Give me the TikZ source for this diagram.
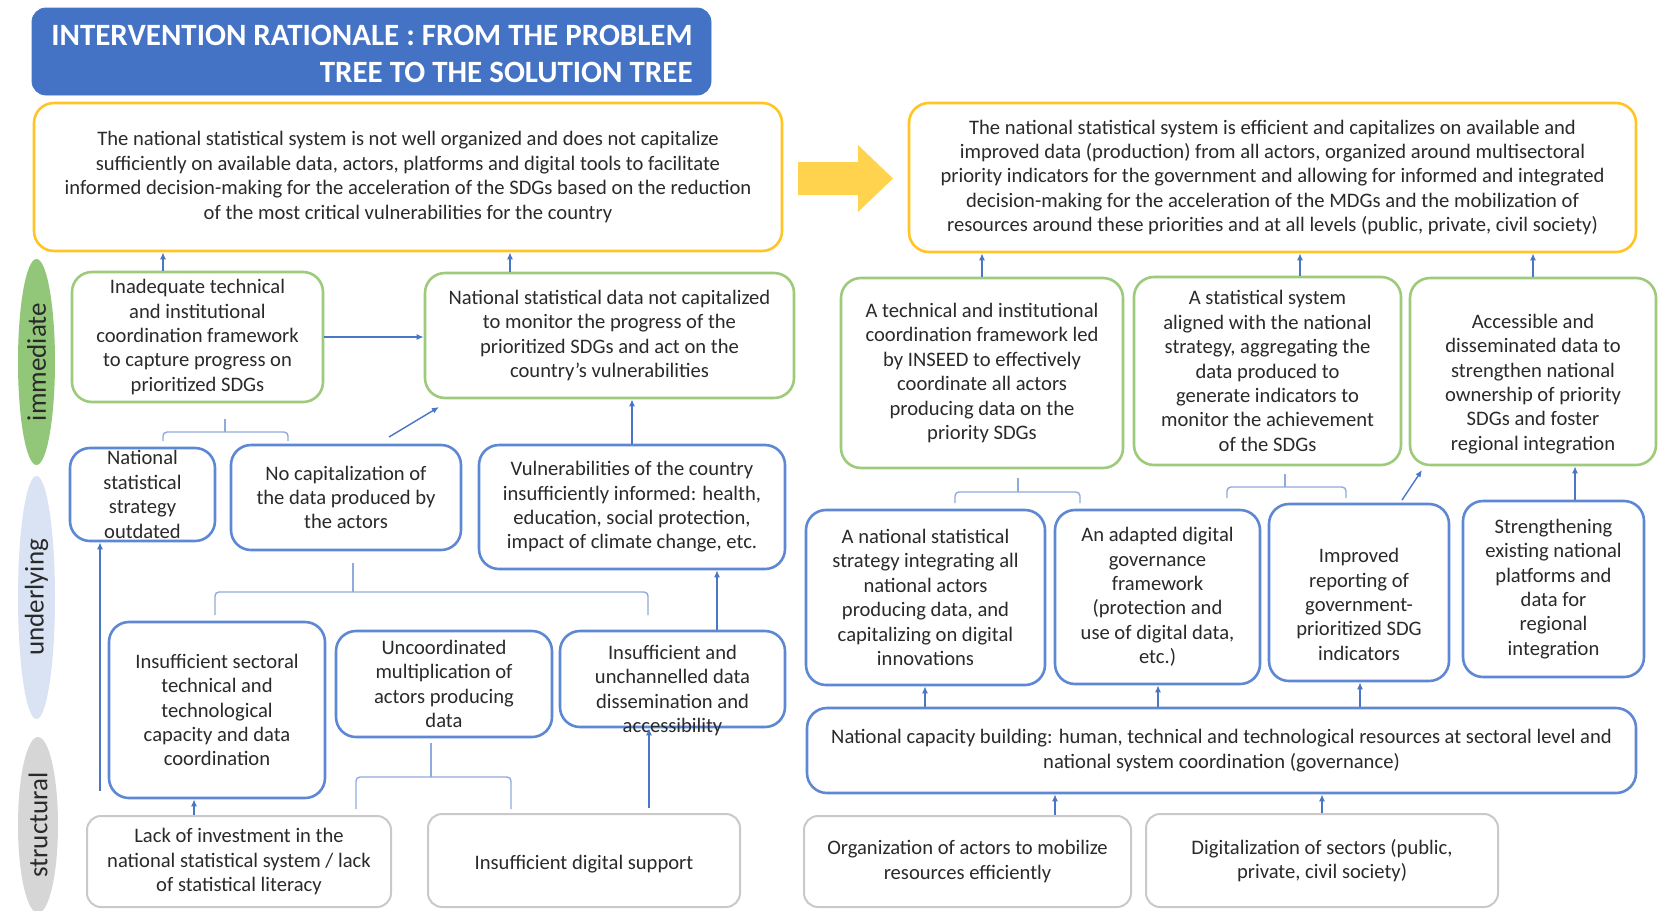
\documentclass[tikz,border=0pt]{standalone}
\usepackage{fontspec}
\setmainfont{Carlito}
\usetikzlibrary{arrows.meta,calc,shapes.geometric}
\definecolor{tblue}{HTML}{4472C4}
\definecolor{ylw}{HTML}{FFC526}
\definecolor{arry}{HTML}{FFD34D}
\definecolor{grn}{HTML}{9DCB7B}
\definecolor{blu}{HTML}{5E88D4}
\definecolor{gry}{HTML}{C9C9C9}
\definecolor{conc}{HTML}{4A76C6}
\definecolor{brc}{HTML}{8FAADC}
\definecolor{txt}{HTML}{2A2A2A}
\definecolor{egrn}{HTML}{92C77A}
\definecolor{eblu}{HTML}{DAE3F3}
\definecolor{egry}{HTML}{D6D6D6}
\tikzset{
  base/.style={align=center, inner sep=0pt, text=txt, font=\fontsize{10.3}{12.2}\selectfont,
    execute at begin node={\rule{0pt}{10.7pt}}},
  ybox/.style={base, draw=ylw, line width=1.3pt, rounded corners=10pt},
  gbox/.style={base, draw=grn, line width=1.3pt, rounded corners=10pt},
  bbox/.style={base, draw=blu, line width=1.3pt, rounded corners=10pt},
  sbox/.style={base, draw=gry, line width=1pt, rounded corners=7pt},
  txtonly/.style={base},
  conn/.style={draw=conc, line width=0.7pt, -{Latex[length=3.5pt,width=3pt]}},
  brk/.style={draw=brc, line width=0.7pt, rounded corners=2pt},
  ell/.style={ellipse, inner sep=0pt, text=txt, font=\fontsize{13.5}{16}\selectfont, rotate=90},
  sz/.style 2 args={minimum width=#1, minimum height=#2}
}
\begin{document}
\begin{tikzpicture}[x=0.5pt,y=-0.5pt]
\useasboundingbox (0,0) rectangle (1658,910);
\fill[white] (0,0) rectangle (1658,910);

% title
\node[fill=tblue, draw=tblue, rounded corners=7pt, sz={339.5pt}{43.5pt}] (title) at (371.5,51.5) {};
\node[anchor=east, align=right, text=white, inner sep=0pt, font=\bfseries\fontsize{15.5}{18.5}\selectfont] (titletxt) at (693,53.5) {INTERVENTION RATIONALE : FROM THE PROBLEM\\TREE TO THE SOLUTION TREE};

% level ellipses
\node[ell, fill=egrn, sz={103pt}{18.5pt}] (eimm) at (36.5,362) {immediate};
\node[ell, fill=eblu, sz={121.5pt}{18.5pt}] (eund) at (36.5,597.5) {underlying};
\node[ell, fill=egry, sz={88pt}{20pt}] (estr) at (38,825) {structural};

% core problems / solution
\node[ybox, sz={374pt}{74pt}] (Yl) at (408,177) {The national statistical system is not well organized and does not capitalize\\sufficiently on available data, actors, platforms and digital tools to facilitate\\informed decision-making for the acceleration of the SDGs based on the reduction\\of the most critical vulnerabilities for the country};
\node[ybox, sz={363.5pt}{74.5pt}] (Yr) at (1272.5,177.5) {The national statistical system is efficient and capitalizes on available and\\improved data (production) from all actors, organized around multisectoral\\priority indicators for the government and allowing for informed and integrated\\decision-making for the acceleration of the MDGs and the mobilization of\\resources around these priorities and at all levels (public, private, civil society)};

% big yellow arrow
\fill[arry] (798,162) -- (858,162) -- (858,145) -- (893,178.5) -- (858,212) -- (858,195) -- (798,195) -- cycle;

% left: problem tree
\node[gbox, sz={125.5pt}{65pt}] (A) at (197.5,337) {Inadequate technical\\and institutional\\coordination framework\\to capture progress on\\prioritized SDGs};
\node[gbox, sz={184.5pt}{62.5pt}] (B) at (609.5,335.5) {National statistical data not capitalized\\to monitor the progress of the\\prioritized SDGs and act on the\\country’s vulnerabilities};
\node[bbox, sz={72.5pt}{46.5pt}, execute at begin node={}] (C) at (142.5,494.5) {National\\statistical\\strategy\\outdated};
\node[bbox, sz={115pt}{52.5pt}] (D) at (346,497.5) {No capitalization of\\the data produced by\\the actors};
\node[bbox, sz={153pt}{62pt}] (E) at (632,507) {Vulnerabilities of the country\\insufficiently informed: health,\\education, social protection,\\impact of climate change, etc.};
\node[bbox, sz={108pt}{88pt}] (F) at (217,710) {Insufficient sectoral\\technical and\\technological\\capacity and data\\coordination};
\node[bbox, sz={108pt}{53pt}] (G) at (444,684) {Uncoordinated\\multiplication of\\actors producing\\data};
\node[bbox, sz={112.5pt}{48pt}] (H) at (672.5,679) {};
\node[txtonly] (Ht) at (672.5,690.5) {Insufficient and\\unchannelled data\\dissemination and\\accessibility};
\node[sbox, sz={152pt}{45.5pt}] (I) at (239,861.5) {Lack of investment in the\\national statistical system / lack\\of statistical literacy};
\node[sbox, sz={156pt}{46.5pt}] (J) at (584,860.5) {Insufficient digital support};

% right: solution tree
\node[gbox, sz={141pt}{95pt}] (K) at (982,373) {A technical and institutional\\coordination framework led\\by INSEED to effectively\\coordinate all actors\\producing data on the\\priority SDGs};
\node[gbox, sz={133.5pt}{94pt}] (L) at (1267.5,371) {A statistical system\\aligned with the national\\strategy, aggregating the\\data produced to\\generate indicators to\\monitor the achievement\\of the SDGs};
\node[gbox, sz={123pt}{93.5pt}] (M) at (1533,371.5) {};
\node[txtonly] (Mt) at (1533,384) {Accessible and\\disseminated data to\\strengthen national\\ownership of priority\\SDGs and foster\\regional integration};
\node[bbox, sz={119.5pt}{87.5pt}] (N) at (925.5,597.5) {A national statistical\\strategy integrating all\\national actors\\producing data, and\\capitalizing on digital\\innovations};
\node[bbox, sz={102.5pt}{87pt}] (O) at (1157.5,597) {An adapted digital\\governance\\framework\\(protection and\\use of digital data,\\etc.)};
\node[bbox, sz={90pt}{88.5pt}] (P) at (1359,592.5) {};
\node[txtonly] (Pt) at (1359,604.5) {Improved\\reporting of\\government-\\prioritized SDG\\indicators};
\node[bbox, sz={90.5pt}{88pt}] (Q) at (1553.5,589) {Strengthening\\existing national\\platforms and\\data for\\regional\\integration};
\node[bbox, sz={414.5pt}{42.5pt}] (R) at (1221.5,750.5) {National capacity building: human, technical and technological resources at sectoral level and\\national system coordination (governance)};
\node[sbox, sz={163.5pt}{45.5pt}] (S) at (967.5,861.5) {Organization of actors to mobilize\\resources efficiently};
\node[sbox, sz={176pt}{46.5pt}] (T) at (1322,860.5) {Digitalization of sectors (public,\\private, civil society)};

% x positions for vertical connectors
\coordinate (x163) at (163,0);
\coordinate (x510) at (510,0);
\coordinate (x632) at (632,0);
\coordinate (x100) at (100,791);
\coordinate (x194) at (194,0);
\coordinate (x649) at (649,0);
\coordinate (x717) at (717,0);
\coordinate (x982) at (982,0);
\coordinate (x1300) at (1300,0);
\coordinate (x1533) at (1533,0);
\coordinate (x1575) at (1575,0);
\coordinate (x925) at (925,0);
\coordinate (x1158) at (1158,0);
\coordinate (x1360) at (1360,0);
\coordinate (x1055) at (1055,0);
\coordinate (x1322) at (1322,0);

% left connectors
\draw[conn] (A.north -| x163) -- (Yl.south -| x163);
\draw[conn] (B.north -| x510) -- (Yl.south -| x510);
\draw[conn] (A.east) -- (A.east -| B.west);
\coordinate (dB1) at (389,437);
\coordinate (dB2) at (439,407);
\draw[conn] (dB1) -- (dB2);
\draw[conn] (E.north -| x632) -- (B.south -| x632);
\draw[conn] (x100) -- (C.south -| x100);
\draw[conn] (I.north -| x194) -- (F.south -| x194);
\draw[conn] ([yshift=2.5pt]J.north -| x649) -- (H.south -| x649);
\draw[conn] (H.north -| x717) -- (E.south -| x717);

% left brackets
\coordinate (b1l) at (163,441); \coordinate (b1r) at (288,441); \coordinate (b1s) at (225,419); \coordinate (b1y) at (0,432);
\draw[brk] (b1l) -- (b1l |- b1y) -- (b1r |- b1y) -- (b1r);
\draw[brk] (b1s |- b1y) -- (b1s);
\coordinate (b2l) at (215,615); \coordinate (b2r) at (648,615); \coordinate (b2s) at (353,563); \coordinate (b2y) at (0,592);
\draw[brk] (b2l) -- (b2l |- b2y) -- (b2r |- b2y) -- (b2r);
\draw[brk] (b2s |- b2y) -- (b2s);
\coordinate (b3l) at (356,809); \coordinate (b3r) at (511,809); \coordinate (b3s) at (431,743); \coordinate (b3y) at (0,777);
\draw[brk] (b3l) -- (b3l |- b3y) -- (b3r |- b3y) -- (b3r);
\draw[brk] (b3s |- b3y) -- (b3s);

% right connectors
\draw[conn] (K.north -| x982) -- (Yr.south -| x982);
\draw[conn] (L.north -| x1300) -- (Yr.south -| x1300);
\draw[conn] (M.north -| x1533) -- (Yr.south -| x1533);
\coordinate (pM1) at (1402,500);
\coordinate (pM2) at (1422,470);
\draw[conn] (pM1) -- (pM2);
\draw[conn] (Q.north -| x1575) -- (M.south -| x1575);
\draw[conn] (R.north -| x925) -- (N.south -| x925);
\draw[conn] (R.north -| x1158) -- (O.south -| x1158);
\draw[conn] (R.north -| x1360) -- (P.south -| x1360);
\draw[conn] (S.north -| x1055) -- (R.south -| x1055);
\draw[conn] (T.north -| x1322) -- (R.south -| x1322);

% right brackets
\coordinate (b4l) at (955,503); \coordinate (b4r) at (1080,503); \coordinate (b4s) at (1018,478); \coordinate (b4y) at (0,492);
\draw[brk] (b4l) -- (b4l |- b4y) -- (b4r |- b4y) -- (b4r);
\draw[brk] (b4s |- b4y) -- (b4s);
\coordinate (b5l) at (1227,498); \coordinate (b5r) at (1346,498); \coordinate (b5s) at (1285,474); \coordinate (b5y) at (0,487);
\draw[brk] (b5l) -- (b5l |- b5y) -- (b5r |- b5y) -- (b5r);
\draw[brk] (b5s |- b5y) -- (b5s);
\end{tikzpicture}
\end{document}
